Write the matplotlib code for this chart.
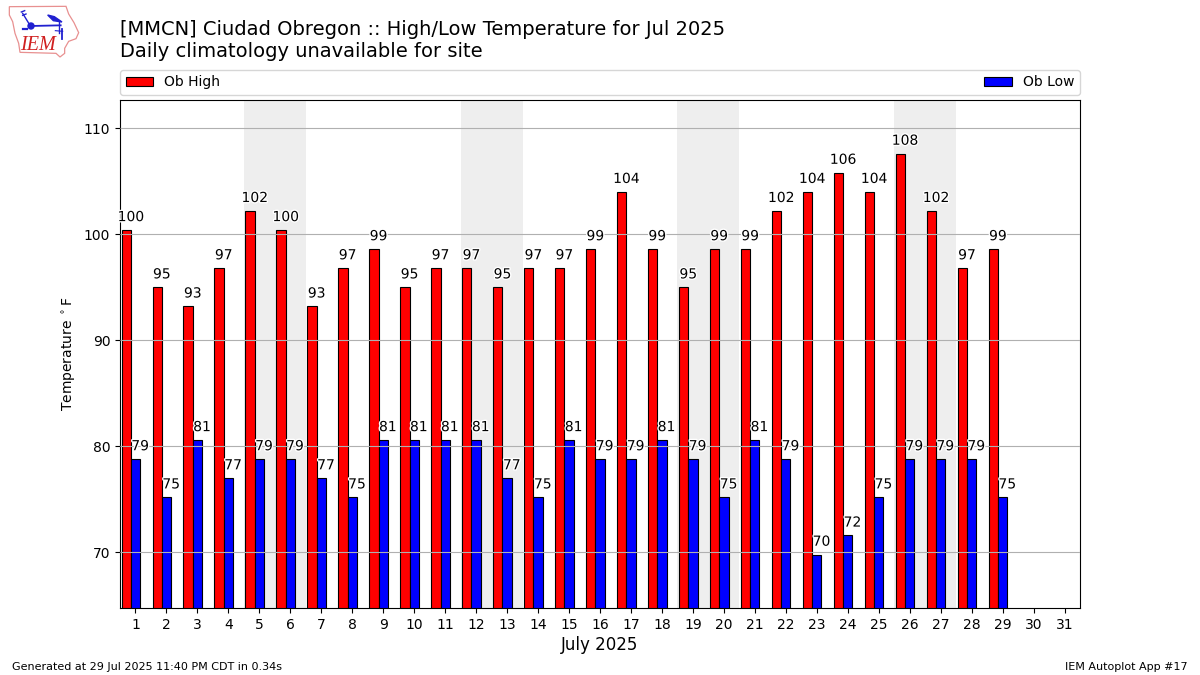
import matplotlib
matplotlib.use("Agg")
import matplotlib.pyplot as plt
import matplotlib.patheffects as pe
from matplotlib.patches import Polygon, Circle

days = list(range(1, 30))
ob_high = [100.4, 95.0, 93.2, 96.8, 102.2, 100.4, 93.2, 96.8, 98.6, 95.0,
           96.8, 96.8, 95.0, 96.8, 96.8, 98.6, 104.0, 98.6, 95.0, 98.6,
           98.6, 102.2, 104.0, 105.8, 104.0, 107.6, 102.2, 96.8, 98.6]
ob_low = [78.8, 75.2, 80.6, 77.0, 78.8, 78.8, 77.0, 75.2, 80.6, 80.6,
          80.6, 80.6, 77.0, 75.2, 80.6, 78.8, 78.8, 80.6, 78.8, 75.2,
          80.6, 78.8, 69.8, 71.6, 75.2, 78.8, 78.8, 78.8, 75.2]
weekends = [5, 12, 19, 26]
x_ticks = list(range(1, 32))
y_ticks = [70, 80, 90, 100, 110]

# iem logo, coordinates are 3x pixels of the top left corner
logo_outline = [(28, 20), (198, 19), (206, 42), (222, 68), (236, 98), (228, 116),
                (206, 124), (194, 145), (194, 160), (180, 171),
                (168, 160), (60, 157), (56, 130), (45, 100),
                (38, 65), (28, 45)]


def draw_logo(fig):
    ax = fig.add_axes([0, 1 - 70 / 675, 130 / 1200, 70 / 675])
    ax.set_xlim(0, 390)
    ax.set_ylim(210, 0)
    ax.axis("off")
    ax.add_patch(Polygon(logo_outline, closed=True, fill=False, ec="#e89090", lw=0.9))
    blue = "#2020d0"
    ax.plot([92, 182], [78, 76], color=blue, lw=1.3)
    ax.plot([68, 90], [40, 76], color=blue, lw=1.0)
    ax.plot([64, 74], [36, 32], color=blue, lw=1.0)
    ax.plot([68, 78], [46, 42], color=blue, lw=1.0)
    ax.add_patch(Circle((93, 78), 9, color=blue))
    ax.add_patch(Polygon([(143, 45), (163, 50), (186, 66), (160, 62)], closed=True, color=blue))
    ax.plot([178, 178], [66, 100], color=blue, lw=1.0)
    ax.plot([187, 187], [88, 116], color=blue, lw=1.3)
    ax.plot([166, 188], [92, 94], color=blue, lw=0.8)
    ax.plot([68, 80], [87, 87], color=blue, lw=1.6)
    ax.text(113, 135, "IEM", family="Liberation Serif", style="italic", color="#d02020",
            fontsize=14.5, ha="center", va="center")


def main():
    fig = plt.figure(figsize=(12, 6.75), dpi=100)
    ax = fig.add_axes([120 / 1200, 67 / 675, 960 / 1200, 508 / 675])

    for day in weekends:
        ax.axvspan(day - 0.5, day + 1.5, color="#eeeeee", lw=0, zorder=0)

    width = 0.3
    ax.bar([d - 0.3 for d in days], ob_high, width, color="r", edgecolor="k",
           linewidth=0.8, label="Ob High", zorder=1)
    ax.bar(days, ob_low, width, color="b", edgecolor="k",
           linewidth=0.8, label="Ob Low", zorder=1)

    ax.set_axisbelow(False)
    ax.grid(True, axis="y", color="#b0b0b0", lw=0.8, zorder=2)

    halo = [pe.withStroke(linewidth=2, foreground="white")]
    for d, high, low in zip(days, ob_high, ob_low):
        ax.text(d - 0.15, high + 0.55, f"{high:.0f}", ha="center", va="bottom",
                fontsize=10, path_effects=halo, zorder=5)
        ax.text(d + 0.15, low + 0.55, f"{low:.0f}", ha="center", va="bottom",
                fontsize=10, path_effects=halo, zorder=5)

    ax.set_xlim(0.5, 31.5)
    ax.set_ylim(64.76, 112.65)
    ax.set_xticks(x_ticks)
    ax.set_yticks(y_ticks)
    ax.tick_params(labelsize=10)
    ax.set_xlabel("July 2025", fontsize=12, labelpad=3)
    ax.set_ylabel(r"Temperature $^\circ$F", fontsize=10, labelpad=4)

    ax.legend(loc="lower left", bbox_to_anchor=(0, 1 + 5 / 508, 1, 0.05), mode="expand",
              ncol=2, borderaxespad=0, fontsize=10)

    fig.text(119.5 / 1200, 1 - 35 / 675, "[MMCN] Ciudad Obregon :: High/Low Temperature for Jul 2025",
             fontsize=14, va="baseline")
    fig.text(119.5 / 1200, 1 - 57 / 675, "Daily climatology unavailable for site",
             fontsize=14, va="baseline")
    fig.text(12 / 1200, 1 - 670 / 675, "Generated at 29 Jul 2025 11:40 PM CDT in 0.34s", fontsize=8)
    fig.text(1188 / 1200, 1 - 670 / 675, "IEM Autoplot App #17", fontsize=8, ha="right")

    draw_logo(fig)
    fig.savefig("out.png", dpi=100)
    plt.close(fig)


if __name__ == "__main__":
    main()
